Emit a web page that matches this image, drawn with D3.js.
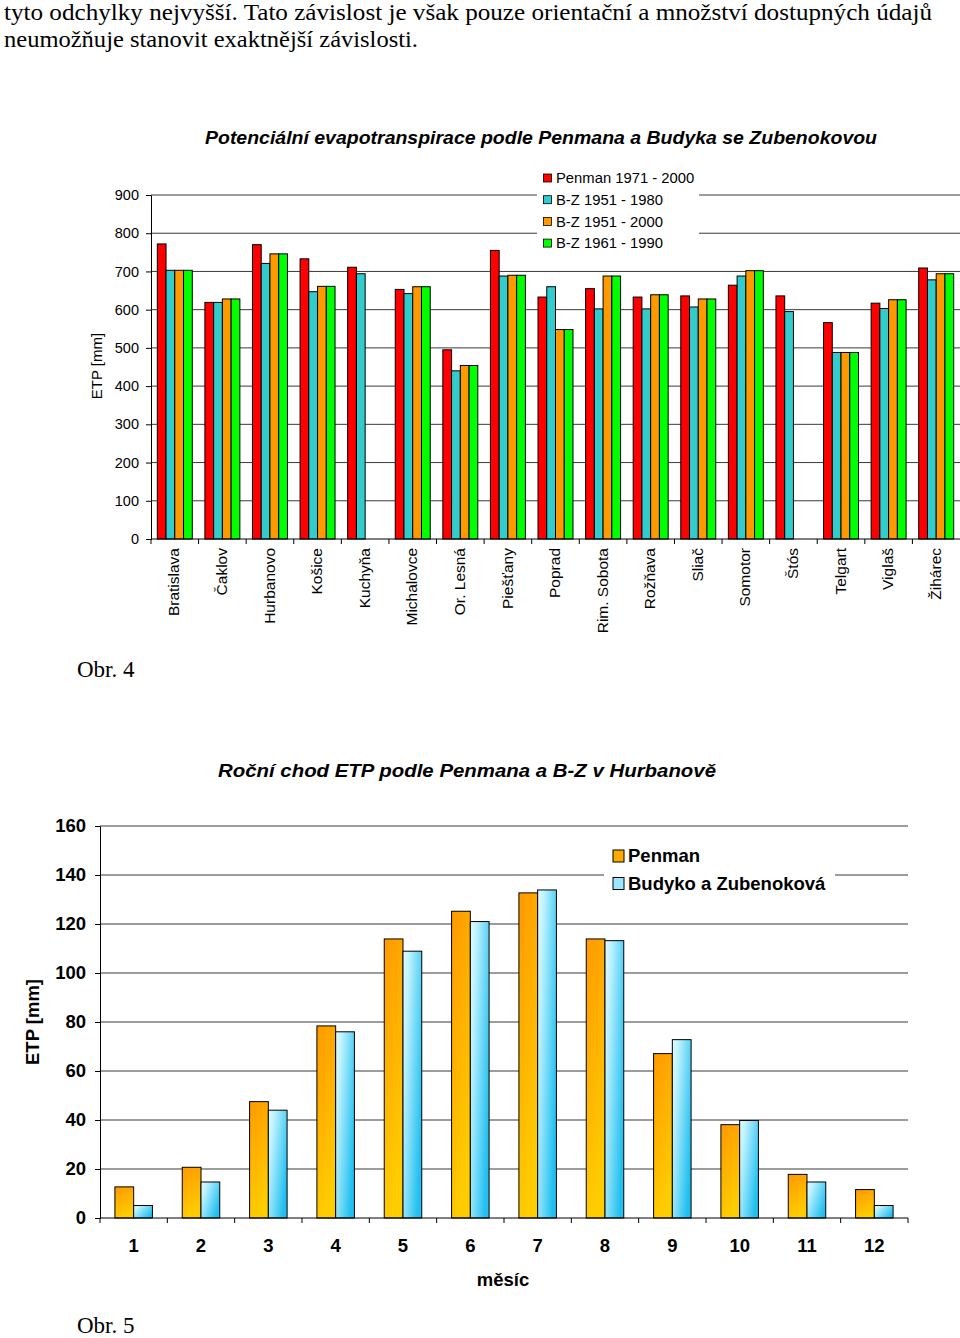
<!DOCTYPE html>
<html><head><meta charset="utf-8">
<script src="https://cdn.jsdelivr.net/npm/d3@7"></script>
<style>body{margin:0;background:#fff}svg{display:block}</style>
</head><body>
<script>
// ---- data: chart 1 ----
const stations = ["Bratislava","Čaklov","Hurbanovo","Košice","Kuchyňa","Michalovce","Or. Lesná","Piešťany","Poprad","Rim. Sobota","Rožňava","Sliač","Somotor","Štós","Telgart","Viglaš","Žihárec"];
const seriesNames1 = ["Penman 1971 - 2000","B-Z 1951 - 1980","B-Z 1951 - 2000","B-Z 1961 - 1990"];
const penman7100 = [772,619,770,733,711,653,495,755,633,655,633,636,664,636,566,617,709];
const bz5180 = [703,619,721,647,694,642,440,688,660,602,602,607,688,595,488,603,678];
const bz5100 = [703,628,746,661,null,660,454,690,548,688,639,628,702,null,488,626,694];
const bz6190 = [703,628,746,661,null,660,454,690,548,688,639,628,702,null,488,626,694];
const yTicks1 = [0,100,200,300,400,500,600,700,800,900];
// ---- data: chart 2 ----
const months = ["1","2","3","4","5","6","7","8","9","10","11","12"];
const seriesNames2 = ["Penman","Budyko a Zubenoková"];
const penmanMonthly = [12.7,20.7,47.5,78.4,113.9,125.2,132.7,113.9,67.1,38.1,17.8,11.6];
const bzMonthly = [5.1,14.7,44.0,76.0,108.9,121.0,133.9,113.2,72.8,39.8,14.7,5.1];
const yTicks2 = [0,20,40,60,80,100,120,140,160];

const W = 960, H = 1338;
const svg = d3.select("body").append("svg").attr("width", W).attr("height", H);
const SANS = "'Liberation Sans', Arial, sans-serif";
const SERIF = "'Liberation Serif', 'Times New Roman', serif";

// ---- paragraph text ----
svg.append("text").attr("x",4).attr("y",20).attr("font-family",SERIF).attr("font-size",23)
  .attr("textLength",928).attr("lengthAdjust","spacingAndGlyphs")
  .text("tyto odchylky nejvyšší. Tato závislost je však pouze orientační a množství dostupných údajů");
svg.append("text").attr("x",4).attr("y",47).attr("font-family",SERIF).attr("font-size",23)
  .attr("textLength",414).attr("lengthAdjust","spacingAndGlyphs")
  .text("neumožňuje stanovit exaktnější závislosti.");
svg.append("text").attr("x",77).attr("y",677).attr("font-family",SERIF).attr("font-size",23).text("Obr. 4");
svg.append("text").attr("x",77).attr("y",1333).attr("font-family",SERIF).attr("font-size",23).text("Obr. 5");

// ================= Chart 1 =================
{
  const L = 151, R = 960, T = 195, B = 539;
  const colors = ["#FF0000","#33CCCC","#FF9900","#00FF00"];
  const data = [penman7100, bz5180, bz5100, bz6190];
  const x0 = d3.scaleBand().domain(stations).range([L,R]).paddingInner(0.265).paddingOuter(0.1325);
  const x1 = d3.scaleBand().domain(d3.range(4)).range([0,x0.bandwidth()]);
  const y = d3.scaleLinear().domain([0,900]).range([B,T]);
  const g = svg.append("g");

  g.selectAll("line.grid").data(yTicks1.slice(1)).join("line")
    .attr("x1",L).attr("x2",R).attr("y1",d=>y(d)).attr("y2",d=>y(d))
    .attr("stroke","#3a3a3a").attr("stroke-width",1);

  stations.forEach((s,i)=>{
    data.forEach((arr,k)=>{
      const v = arr[i];
      if (v == null) return;
      g.append("rect").attr("x",x0(s)+x1(k)).attr("y",y(v))
        .attr("width",x1.bandwidth()).attr("height",y(0)-y(v))
        .attr("fill",colors[k]).attr("stroke","#000").attr("stroke-width",1);
    });
  });

  const ya = g.append("g").attr("transform",`translate(${L},0)`)
    .call(d3.axisLeft(y).tickValues(yTicks1).tickSize(5).tickPadding(7).tickFormat(d3.format("d")));
  ya.select(".domain").attr("stroke","#000");
  ya.selectAll("line").attr("stroke","#000");
  ya.selectAll("text").attr("font-family",SANS).attr("font-size",14.5).attr("fill","#000");

  const step = x0.step(), off = (step - x0.bandwidth())/2;
  g.append("line").attr("x1",L).attr("x2",R).attr("y1",B).attr("y2",B).attr("stroke","#000");
  g.selectAll("line.xt").data(stations).join("line")
    .attr("x1",d=>x0(d)-off).attr("x2",d=>x0(d)-off).attr("y1",B).attr("y2",B+5).attr("stroke","#000");
  g.selectAll("text.cat").data(stations).join("text")
    .attr("transform",d=>`translate(${x0(d)+x0.bandwidth()/2-1},548) rotate(-90)`)
    .attr("text-anchor","end").attr("dy","0.36em")
    .attr("font-family",SANS).attr("font-size",15.5).text(d=>d);

  g.append("text").attr("transform","translate(97,366) rotate(-90)").attr("text-anchor","middle")
    .attr("dy","0.36em").attr("font-family",SANS).attr("font-size",15).text("ETP [mm]");

  g.append("text").attr("x",541).attr("y",144).attr("text-anchor","middle")
    .attr("font-family",SANS).attr("font-size",17.5).attr("font-weight","bold").attr("font-style","italic")
    .attr("textLength",672).attr("lengthAdjust","spacingAndGlyphs")
    .text("Potenciální evapotranspirace podle Penmana a Budyka se Zubenokovou");

  const lg = g.append("g");
  lg.append("rect").attr("x",537).attr("y",166).attr("width",162).attr("height",88).attr("fill","#fff");
  seriesNames1.forEach((n,k)=>{
    const cy = 178 + k*21.7;
    lg.append("rect").attr("x",543.5).attr("y",cy-4).attr("width",8).attr("height",8)
      .attr("fill",colors[k]).attr("stroke","#000").attr("stroke-width",0.8);
    lg.append("text").attr("x",556).attr("y",cy).attr("dy","0.36em")
      .attr("font-family",SANS).attr("font-size",14.8).text(n);
  });
}

// ================= Chart 2 =================
{
  const L = 100, R = 908, T = 826, B = 1218;
  const defs = svg.append("defs");
  const go = defs.append("linearGradient").attr("id","gOrange").attr("x1","0").attr("y1","0").attr("x2","0.3").attr("y2","1");
  go.append("stop").attr("offset","0").attr("stop-color","#FF9900");
  go.append("stop").attr("offset","1").attr("stop-color","#FFCC00");
  const gc = defs.append("linearGradient").attr("id","gCyan").attr("x1","0").attr("y1","0").attr("x2","1").attr("y2","0.6");
  gc.append("stop").attr("offset","0").attr("stop-color","#DDFFFF");
  gc.append("stop").attr("offset","0.25").attr("stop-color","#BFF2FF");
  gc.append("stop").attr("offset","1").attr("stop-color","#22C0F0");
  const fills = ["url(#gOrange)","url(#gCyan)"];
  const legendFills = ["#FFAA00","#99E8FF"];
  const data = [penmanMonthly, bzMonthly];

  const x0 = d3.scaleBand().domain(months).range([L,R]).paddingInner(0.443).paddingOuter(0.2215);
  const x1 = d3.scaleBand().domain(d3.range(2)).range([0,x0.bandwidth()]);
  const y = d3.scaleLinear().domain([0,160]).range([B,T]);
  const g = svg.append("g");

  g.selectAll("line.grid").data(yTicks2.slice(1)).join("line")
    .attr("x1",L).attr("x2",R).attr("y1",d=>y(d)).attr("y2",d=>y(d))
    .attr("stroke","#3a3a3a").attr("stroke-width",1.2);

  months.forEach((m,i)=>{
    data.forEach((arr,k)=>{
      const v = arr[i];
      g.append("rect").attr("x",x0(m)+x1(k)).attr("y",y(v))
        .attr("width",x1.bandwidth()).attr("height",y(0)-y(v))
        .attr("fill",fills[k]).attr("stroke","#000").attr("stroke-width",1);
    });
  });

  const ya = g.append("g").attr("transform",`translate(${L},0)`)
    .call(d3.axisLeft(y).tickValues(yTicks2).tickSize(5).tickPadding(9));
  ya.select(".domain").attr("stroke","#000");
  ya.selectAll("line").attr("stroke","#000");
  ya.selectAll("text").attr("font-family",SANS).attr("font-size",18.5).attr("font-weight","bold").attr("fill","#000");

  const step = x0.step();
  g.append("line").attr("x1",L).attr("x2",R).attr("y1",B).attr("y2",B).attr("stroke","#000");
  g.selectAll("line.xt").data(months.concat(["end"])).join("line")
    .attr("x1",(d,i)=>L+i*step).attr("x2",(d,i)=>L+i*step).attr("y1",B).attr("y2",B+5).attr("stroke","#000");
  g.selectAll("text.cat").data(months).join("text")
    .attr("x",d=>x0(d)+x0.bandwidth()/2).attr("y",1252).attr("text-anchor","middle")
    .attr("font-family",SANS).attr("font-size",18.5).attr("font-weight","bold").text(d=>d);

  g.append("text").attr("x",503).attr("y",1286).attr("text-anchor","middle")
    .attr("font-family",SANS).attr("font-size",18.5).attr("font-weight","bold").text("měsíc");
  g.append("text").attr("transform","translate(32,1022) rotate(-90)").attr("text-anchor","middle")
    .attr("dy","0.36em").attr("font-family",SANS).attr("font-size",18.5).attr("font-weight","bold").text("ETP [mm]");

  g.append("text").attr("x",467).attr("y",777).attr("text-anchor","middle")
    .attr("font-family",SANS).attr("font-size",19).attr("font-weight","bold").attr("font-style","italic")
    .attr("textLength",498).attr("lengthAdjust","spacingAndGlyphs")
    .text("Roční chod ETP podle Penmana a B-Z v Hurbanově");

  const lg = g.append("g");
  lg.append("rect").attr("x",604).attr("y",840).attr("width",231).attr("height",56).attr("fill","#fff");
  seriesNames2.forEach((n,k)=>{
    const top = 850 + k*27.5;
    lg.append("rect").attr("x",613).attr("y",top).attr("width",11).attr("height",12)
      .attr("fill",legendFills[k]).attr("stroke","#000").attr("stroke-width",1);
    lg.append("text").attr("x",628).attr("y",top+12)
      .attr("font-family",SANS).attr("font-size",18.5).attr("font-weight","bold").text(n);
  });
}
</script>
</body></html>
